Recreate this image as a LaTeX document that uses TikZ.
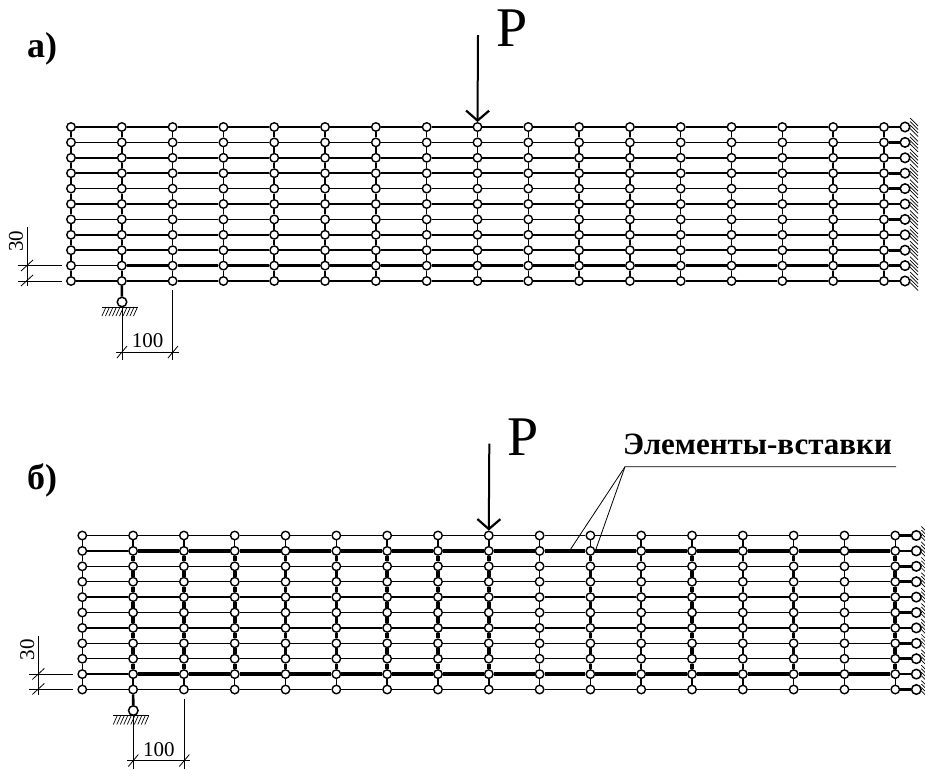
\documentclass[tikz,border=0pt]{standalone}
\usepackage{fontspec}
\setmainfont{Liberation Serif}
\usetikzlibrary{arrows.meta}

\tikzset{
  main node/.style={circle,draw,fill=white,line width=1.4pt,inner sep=0pt,minimum size=8.5pt},
  support node/.style={circle,draw,fill=white,line width=1.5pt,inner sep=0pt,minimum size=9.5pt},
  thin beam/.style={-,line width=1.5pt},
  insert beam/.style={-,line width=3.6pt},
  hinge beam/.style={-,line width=2.6pt},
  fine line/.style={-,line width=0.8pt},
  hatch line/.style={-,line width=0.7pt},
  panel label/.style={inner sep=0pt,anchor=base west,font=\fontsize{36}{36}\selectfont\bfseries},
  force label/.style={inner sep=0pt,font=\fontsize{56}{56}\selectfont},
  size label/.style={inner sep=0pt,font=\fontsize{21}{21}\selectfont}
}

\newcommand{\beamgrid}[1]{
  \foreach \i in {0,...,16}
    \foreach \j in {0,...,10}
      \node[main node] (#1-\i-\j) at (71+50.81*\i,127+15.4*\j) {};
  \foreach \j in {0,...,10}
    \node[support node] (#1-s-\j) at (905,127+15.4*\j) {};
  \node[support node] (#1-b) at (122,302) {};
  \foreach \j in {0,...,10}{
    \foreach \i [count=\k from 1] in {0,...,15}
      \path (#1-\i-\j) [thin beam] edge (#1-\k-\j);
    \path (#1-16-\j) [hinge beam] edge (#1-s-\j);
    \foreach \d in {-9,-5.5,-2,1.5}
      \draw[hatch line] (905+5,127+15.4*\j+\d) -- (905+13,127+15.4*\j+\d+8);
  }
  \foreach \i in {0,...,16}
    \foreach \j [count=\k from 1] in {0,...,9}
      \path (#1-\i-\j) [thin beam] edge (#1-\i-\k);
  \path (#1-1-10) [hinge beam] edge (#1-b);
  \coordinate (#1-h0) at (102,307);
  \coordinate (#1-h1) at (138,307);
  \draw[fine line] (#1-h0) -- (#1-h1);
  \foreach \x in {106,109.5,...,139}
    \draw[hatch line] (\x,307) -- (\x-4,316);
  % sizes
  \coordinate (#1-e0) at (122,307);
  \coordinate (#1-e1) at (122,360);
  \coordinate (#1-e2) at (172.8,290);
  \coordinate (#1-e3) at (172.8,360);
  \coordinate (#1-d0) at (116,352);
  \coordinate (#1-d1) at (179,352);
  \draw[fine line] (#1-e0) -- (#1-e1);
  \draw[fine line] (#1-e2) -- (#1-e3);
  \draw[fine line] (#1-d0) -- (#1-d1);
  \draw[fine line] (117,358) -- (127,346);
  \draw[fine line] (168,358) -- (178,346);
  \node[size label] (#1-w) at (147.5,341) {100};
  \coordinate (#1-f0) at (18,265.6);
  \coordinate (#1-f1) at (62,265.6);
  \coordinate (#1-f2) at (18,281);
  \coordinate (#1-f3) at (62,281);
  \coordinate (#1-g0) at (27,227);
  \coordinate (#1-g1) at (27,286);
  \draw[fine line] (#1-f0) -- (#1-f1);
  \draw[fine line] (#1-f2) -- (#1-f3);
  \draw[fine line] (#1-g0) -- (#1-g1);
  \draw[fine line] (21,271) -- (33,260);
  \draw[fine line] (21,286) -- (33,275);
  \node[size label,rotate=90] (#1-t) at (16,241) {30};
  % force
  \coordinate (#1-p) at (478,35);
  \draw[-{Straight Barb[length=10pt,width=23pt,line width=2.2pt]},line width=2pt] (#1-p) -- (#1-8-0);
  \node[force label] (#1-P) at (512,28.5) {P};
}

\begin{document}
\begin{tikzpicture}[x=1pt,y=-1pt]
  \clip (0,0) rectangle (925,769);
  \useasboundingbox (0,0) rectangle (925,769);

  \beamgrid{a}
  \foreach \i [count=\k from 2] in {1,...,15}
    \path (a-\i-9) [insert beam] edge (a-\k-9);
  \node[panel label] (la) at (27,57) {а)};

  \begin{scope}[shift={(11.3,408.5)}]
    \beamgrid{c}
    \foreach \j in {1,9}
      \foreach \i [count=\k from 2] in {1,...,15}
        \path (c-\i-\j) [insert beam] edge (c-\k-\j);
    \foreach \i in {1,...,8,10,12,14,16}
      \foreach \j [count=\k from 2] in {1,...,8}
        \path (c-\i-\j) [insert beam] edge (c-\i-\k);
  \end{scope}
  \node[panel label] (lb) at (27,489) {б)};

  \node[inner sep=0pt,anchor=base west,font=\fontsize{31}{31}\selectfont\bfseries] (lc) at (623,454) {Элементы-вставки};
  \coordinate (k0) at (896,466.7);
  \coordinate (k1) at (625,466.7);
  \coordinate (k2) at (570.7,549);
  \coordinate (k3) at (596,549);
  \draw[fine line] (k0) -- (k1) -- (k2);
  \draw[fine line] (k1) -- (k3);
\end{tikzpicture}
\end{document}
